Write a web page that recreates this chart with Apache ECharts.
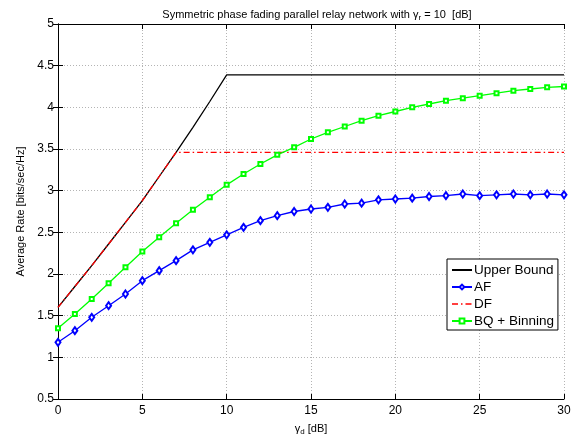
<!DOCTYPE html>
<html>
<head>
<meta charset="utf-8">
<script src="https://cdn.jsdelivr.net/npm/echarts@6/dist/echarts.min.js"></script>
<style>
  html, body { margin: 0; padding: 0; background: #fff; }
  #chart { width: 579px; height: 443px; }
</style>
</head>
<body>
<div id="chart"></div>
<script>
// gamma_d [dB] for AF and BQ curves
const gammaD = [0,1,2,3,4,5,6,7,8,9,10,11,12,13,14,15,16,17,18,19,20,21,22,23,24,25,26,27,28,29,30]
const af = [1.18,1.32,1.48,1.62,1.76,1.92,2.04,2.16,2.29,2.38,2.47,2.56,2.64,2.70,2.75,2.78,2.80,2.84,2.85,2.89,2.90,2.91,2.93,2.94,2.96,2.94,2.95,2.96,2.95,2.96,2.95]
const bq = [1.35,1.52,1.70,1.89,2.08,2.27,2.44,2.61,2.77,2.92,3.07,3.20,3.32,3.43,3.52,3.62,3.70,3.77,3.84,3.90,3.95,4.00,4.04,4.08,4.11,4.14,4.17,4.20,4.22,4.24,4.25]
// upper bound
const upperX = [0,1,2,3,4,5,6,7,8,9,10,30]
const upper = [1.60,1.85,2.10,2.36,2.62,2.88,3.17,3.46,3.76,4.07,4.39,4.39]
// DF
const dfX = [0,1,2,3,4,5,6,7,30]
const df = [1.60,1.85,2.10,2.36,2.62,2.88,3.17,3.46,3.46]

const pairs = (xs, ys) => xs.map((x, i) => [x, ys[i]])

const font = 'Liberation Sans, Arial, Helvetica, sans-serif'
const dashDot = [6, 3, 1.5, 3]

let myChart = echarts.init(document.getElementById('chart'))

const gridLine = { show: true, lineStyle: { color: '#b4b4b4', type: [1, 2], width: 1 } }
const blackLine = { show: true, lineStyle: { color: '#000', width: 1 } }
const inTick = { show: true, inside: true, length: 5, lineStyle: { color: '#000' } }
const subRich = (size) => ({
  a: { fontSize: size, fontFamily: font, fontWeight: 'normal', color: '#000', lineHeight: 14 },
  s: { fontSize: 8, fontFamily: font, fontWeight: 'normal', color: '#000', verticalAlign: 'bottom', lineHeight: 14, padding: [6, 0, 0, 0] }
})

let option = {
  animation: false,
  backgroundColor: '#fff',
  title: {
    text: '{a|Symmetric phase fading parallel relay network with γ}{s|r}{a| = 10  [dB]}',
    left: 312,
    textAlign: 'center',
    top: 3,
    textStyle: { fontWeight: 'normal', rich: subRich(11) }
  },
  grid: { left: 58, right: 15, top: 24, bottom: 44 },
  legend: {
    orient: 'vertical',
    left: 447,
    top: 259,
    padding: [4, 4, 2, 4],
    itemGap: 3,
    itemWidth: 20,
    itemHeight: 6,
    backgroundColor: '#fff',
    borderColor: '#000',
    borderWidth: 1,
    borderRadius: 0,
    textStyle: { fontSize: 13.5, fontFamily: font, color: '#000', padding: [0, 0, 0, -3] },
    data: [
      { name: 'Upper Bound', itemStyle: { opacity: 0 } },
      { name: 'AF' },
      { name: 'DF', itemStyle: { opacity: 0 }, lineStyle: { type: dashDot, color: '#ff0000', width: 1.3 } },
      { name: 'BQ + Binning' }
    ]
  },
  xAxis: [
    {
      type: 'value', min: 0, max: 30, interval: 5,
      axisLine: blackLine, axisTick: inTick, splitLine: gridLine,
      axisLabel: { color: '#000', fontSize: 12, fontFamily: font, margin: 6 },
      name: '{a|γ}{s|d}{a| [dB]}',
      nameLocation: 'middle',
      nameGap: 20,
      nameTextStyle: { rich: subRich(11) }
    },
    {
      type: 'value', min: 0, max: 30, interval: 5, position: 'top',
      axisLine: blackLine, axisTick: inTick, splitLine: { show: false },
      axisLabel: { show: false }
    }
  ],
  yAxis: [
    {
      type: 'value', min: 0.5, max: 5, interval: 0.5,
      axisLine: blackLine, axisTick: inTick, splitLine: gridLine,
      axisLabel: { color: '#000', fontSize: 12, fontFamily: font, margin: 4 },
      name: 'Average Rate [bits/sec/Hz]',
      nameLocation: 'middle',
      nameGap: 31,
      nameTextStyle: { fontSize: 11, fontFamily: font, color: '#000' }
    },
    {
      type: 'value', min: 0.5, max: 5, interval: 0.5, position: 'right',
      axisLine: blackLine, axisTick: inTick, splitLine: { show: false },
      axisLabel: { show: false }
    }
  ],
  series: [
    {
      name: 'Upper Bound',
      type: 'line',
      data: pairs(upperX, upper),
      symbol: 'none',
      color: '#000',
      lineStyle: { color: '#000', width: 1.3 }
    },
    {
      name: 'AF',
      type: 'line',
      data: pairs(gammaD, af),
      symbol: 'emptyDiamond',
      symbolSize: [5, 7],
      color: '#0000ff',
      itemStyle: { color: '#0000ff', borderWidth: 1 },
      lineStyle: { color: '#0000ff', width: 1.3 }
    },
    {
      name: 'DF',
      type: 'line',
      data: pairs(dfX, df),
      symbol: 'none',
      color: '#ff0000',
      lineStyle: { color: '#ff0000', width: 1.3, type: dashDot }
    },
    {
      name: 'BQ + Binning',
      type: 'line',
      data: pairs(gammaD, bq),
      symbol: 'emptyRect',
      symbolSize: 4,
      color: '#00ff00',
      itemStyle: { color: '#00ff00', borderWidth: 1 },
      lineStyle: { color: '#00ff00', width: 1.3 }
    }
  ]
}

myChart.setOption(option)
</script>
</body>
</html>
